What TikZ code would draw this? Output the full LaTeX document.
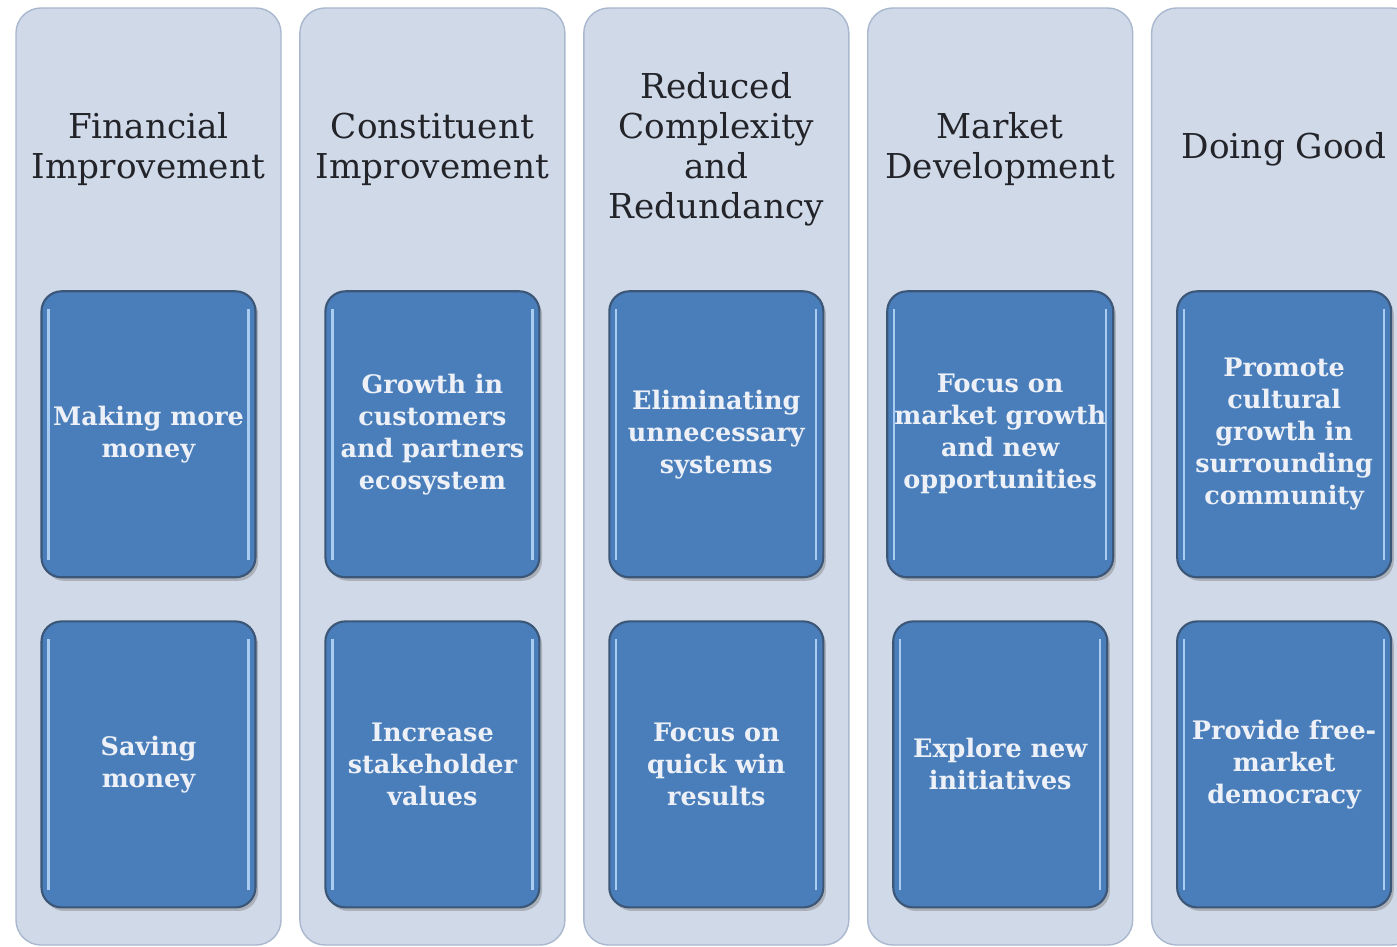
\documentclass[tikz,border=0pt]{standalone}
\usepackage{fontspec}
\setmainfont{DejaVu Serif}
\usepackage{tikz}
\usetikzlibrary{positioning,shadows}
\definecolor{pillarfill}{HTML}{D0D9E8}
\definecolor{pillarline}{HTML}{A9B8CF}
\definecolor{cardfill}{HTML}{4A7EBB}
\definecolor{cardline}{HTML}{3B5676}
\definecolor{cardglow}{HTML}{A9CCF0}
\definecolor{cardtext}{HTML}{EDF1F7}
\definecolor{titletext}{HTML}{222429}

\begin{document}
\begin{tikzpicture}[
  pillar/.style={draw=pillarline,fill=pillarfill,rounded corners=0.5cm,
              minimum width=5.3cm,minimum height=18.74cm,inner sep=0pt,line width=0.8pt},
  heading/.style={font=\fontsize{19.5}{22.8}\selectfont,text=titletext,align=center},
  card/.style={draw=cardline,fill=cardfill,rounded corners=0.4cm,line width=1.2pt,
              minimum width=4.28cm,minimum height=5.72cm,inner sep=2pt,align=center,
              font=\fontsize{14.5}{18.2}\selectfont\bfseries,text=cardtext,
              drop shadow={shadow xshift=1.5pt,shadow yshift=-2pt,opacity=0.45},
              path picture={
                \draw[cardglow,line width=1.3pt]
                  ([xshift=4pt,yshift=-10pt]path picture bounding box.north west) --
                  ([xshift=4pt,yshift=10pt]path picture bounding box.south west);
                \draw[cardglow,line width=1.3pt]
                  ([xshift=-4pt,yshift=-10pt]path picture bounding box.north east) --
                  ([xshift=-4pt,yshift=10pt]path picture bounding box.south east);}}]
\useasboundingbox[fill=white] (0,0) rectangle (27.94,-18.94);

% the five pillars
\node[pillar] (fin) at (2.97,-9.53) {};
\node[pillar,right=0.35cm of fin] (con) {};
\node[pillar,right=0.35cm of con] (red) {};
\node[pillar,right=0.35cm of red] (mkt) {};
\node[pillar,right=0.35cm of mkt] (good) {};

% pillar headings
\node[heading] (finT) at ([yshift=-2.84cm]fin.north) {Financial\\Improvement};
\node[heading] (conT) at ([yshift=-2.84cm]con.north) {Constituent\\Improvement};
\node[heading] (redT) at ([yshift=-2.84cm]red.north) {Reduced\\Complexity\\and\\Redundancy};
\node[heading] (mktT) at ([yshift=-2.84cm]mkt.north) {Market\\Development};
\node[heading] (goodT) at ([yshift=-2.84cm]good.north) {Doing Good};

% upper cards
\node[card] (fin1) at ([yshift=-8.54cm]fin.north) {Making more\\money};
\node[card] (con1) at ([yshift=-8.54cm]con.north) {Growth in\\customers\\and partners\\ecosystem};
\node[card] (red1) at ([yshift=-8.54cm]red.north) {Eliminating\\unnecessary\\systems};
\node[card,minimum width=4.52cm] (mkt1) at ([yshift=-8.54cm]mkt.north) {Focus on\\market growth\\and new\\opportunities};
\node[card] (good1) at ([yshift=-8.54cm]good.north) {Promote\\cultural\\growth in\\surrounding\\community};

% lower cards
\node[card,below=0.84cm of fin1] (fin2) {Saving\\money};
\node[card,below=0.84cm of con1] (con2) {Increase\\stakeholder\\values};
\node[card,below=0.84cm of red1] (red2) {Focus on\\quick win\\results};
\node[card,below=0.84cm of mkt1] (mkt2) {Explore new\\initiatives};
\node[card,below=0.84cm of good1] (good2) {Provide free-\\market\\democracy};
\end{tikzpicture}
\end{document}
